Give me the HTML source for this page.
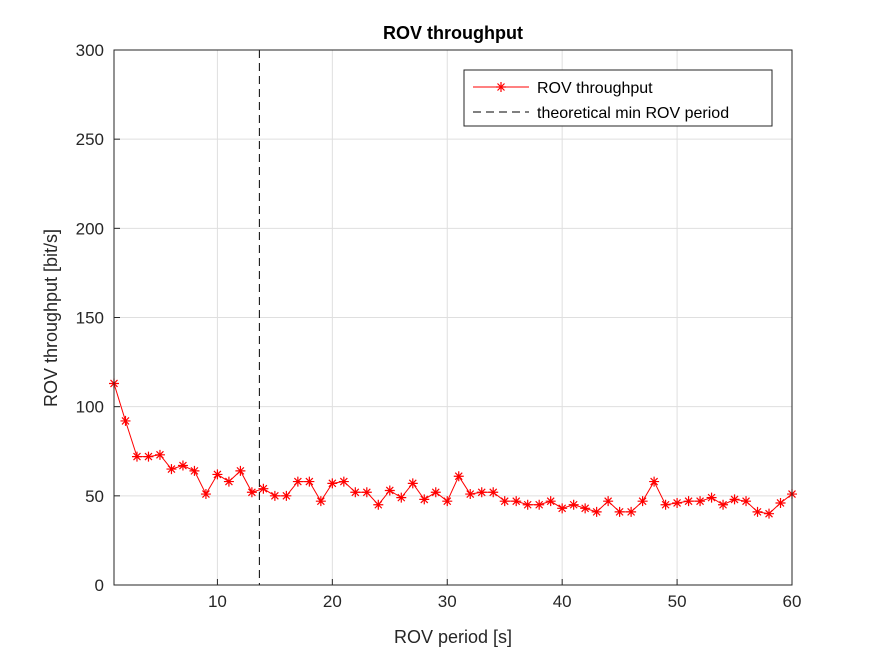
<!DOCTYPE html>
<html><head><meta charset="utf-8"><style>
body{margin:0;background:#fff;}
svg text{font-family:"Liberation Sans",Arial,sans-serif;}
</style></head><body>
<svg id="chart" width="875" height="656">
<rect x="0" y="0" width="875" height="656" fill="#fff"/>
<g id="grid"></g>
<g id="series"></g>
<g id="axes"></g>
</svg>
<script>
const xVals=[1,2,3,4,5,6,7,8,9,10,11,12,13,14,15,16,17,18,19,20,21,22,23,24,25,26,27,28,29,30,31,32,33,34,35,36,37,38,39,40,41,42,43,44,45,46,47,48,49,50,51,52,53,54,55,56,57,58,59,60];
const throughput=[113,92,72,72,73,65,67,64,51,62,58,64,52,54,50,50,58,58,47,57,58,52,52,45,53,49,57,48,52,47,61,51,52,52,47,47,45,45,47,43,45,43,41,47,41,41,47,58,45,46,47,47,49,45,48,47,41,40,46,51];
const minPeriod=13.65;
const xTicks=[10,20,30,40,50,60];
const yTicks=[0,50,100,150,200,250,300];
const L=114,R=792,T=50,B=585,xmin=1,xmax=60,ymin=0,ymax=300;
const X=v=>L+(v-xmin)/(xmax-xmin)*(R-L);
const Y=v=>B-(v-ymin)/(ymax-ymin)*(B-T);
const NS='http://www.w3.org/2000/svg';
function mk(tag,attrs,parent){const e=document.createElementNS(NS,tag);for(const k in attrs)e.setAttribute(k,attrs[k]);parent.appendChild(e);return e;}
const grid=document.getElementById('grid'),series=document.getElementById('series'),axes=document.getElementById('axes'),svg=document.getElementById('chart');
xTicks.forEach(t=>{const l=mk('line',{x1:X(t),x2:X(t),y1:T,y2:B,stroke:'#dfdfdf','stroke-width':1},grid);


const tx=mk('text',{x:X(t),y:B+22,'text-anchor':'middle','font-size':17,fill:'#262626'},axes);tx.textContent=t;


mk('line',{x1:X(t),x2:X(t),y1:B,y2:B-6,stroke:'#262626'},axes);});
yTicks.forEach(t=>{const l=mk('line',{x1:L,x2:R,y1:Y(t),y2:Y(t),stroke:'#dfdfdf','stroke-width':1},grid);


const tx=mk('text',{x:L-10,y:Y(t)+6,'text-anchor':'end','font-size':17,fill:'#262626'},axes);tx.textContent=t;


mk('line',{x1:L,x2:L+6,y1:Y(t),y2:Y(t),stroke:'#262626'},axes);});
const box=mk('rect',{x:L,y:T,width:R-L,height:B-T,fill:'none',stroke:'#262626','stroke-width':1},axes);


const vl=mk('line',{x1:X(minPeriod),x2:X(minPeriod),y1:T,y2:B,stroke:'#000','stroke-dasharray':'8,5','stroke-width':1},series);


const pts=xVals.map((x,i)=>X(x)+','+Y(throughput[i])).join(' ');
const pl=mk('polyline',{points:pts,fill:'none',stroke:'#f00','stroke-width':1},series);


function star(cx,cy,g){const s=5;let d=`M${cx-s},${cy}H${cx+s}M${cx},${cy-s}V${cy+s}M${cx-3.5},${cy-3.5}L${cx+3.5},${cy+3.5}M${cx-3.5},${cy+3.5}L${cx+3.5},${cy-3.5}`;return mk('path',{d:d,stroke:'#f00','stroke-width':1.2,fill:'none'},g);}
xVals.forEach((x,i)=>{const p=star(X(x),Y(throughput[i]),series);

});
// legend
const lg=mk('g',{},svg);


mk('rect',{x:464,y:70,width:308,height:56,fill:'#fff',stroke:'#262626','stroke-width':1},lg);
mk('line',{x1:473,x2:529,y1:87,y2:87,stroke:'#f00'},lg);star(501,87,lg);
const t1=mk('text',{x:537,y:93,'font-size':16,fill:'#000'},lg);t1.textContent='ROV throughput';


mk('line',{x1:473,x2:529,y1:112,y2:112,stroke:'#000','stroke-dasharray':'8,5'},lg);
const t2=mk('text',{x:537,y:118,'font-size':16,fill:'#000'},lg);t2.textContent='theoretical min ROV period';


</script>
<svg width="875" height="656" style="position:absolute;left:0;top:0">
<text x="453" y="39" text-anchor="middle" font-size="18" font-weight="bold" fill="#000">ROV throughput</text>
<text x="453" y="643" text-anchor="middle" font-size="18" fill="#262626">ROV period [s]</text>
<text transform="translate(57,318) rotate(-90)" text-anchor="middle" font-size="18" fill="#262626">ROV throughput [bit/s]</text>
</svg>
</body></html>
